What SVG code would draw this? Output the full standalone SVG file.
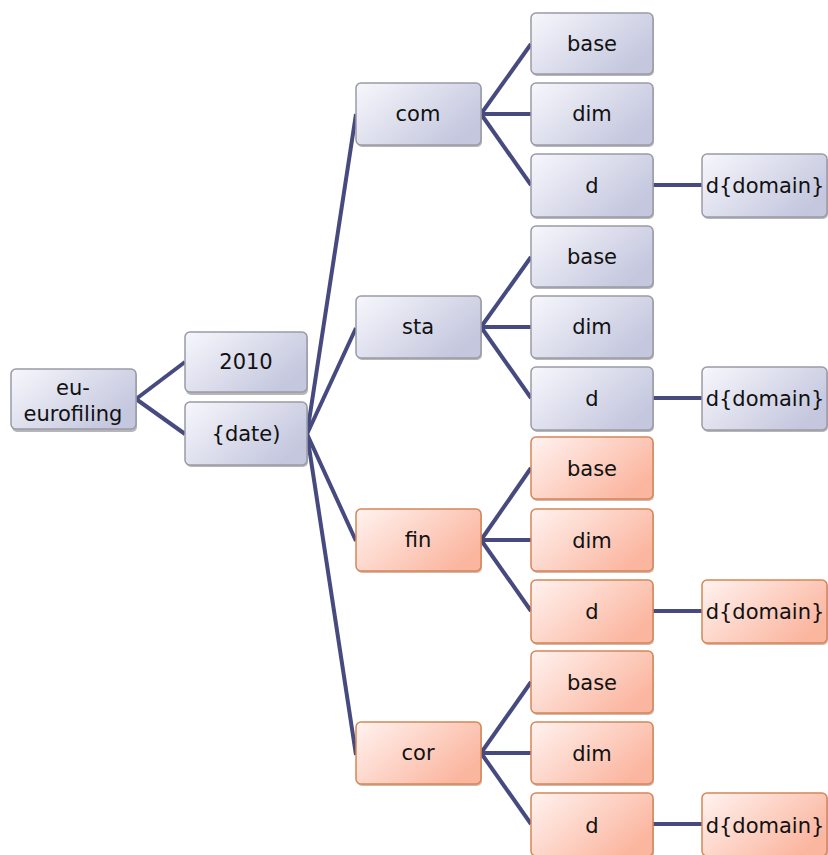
<svg xmlns="http://www.w3.org/2000/svg" width="828" height="855" viewBox="0 0 828 855">
<defs>
<linearGradient id="gb" x1="0" y1="0" x2="1" y2="0.6">
<stop offset="0" stop-color="#f7f7fc"/>
<stop offset="1" stop-color="#c4c7de"/>
</linearGradient>
<linearGradient id="go" x1="0" y1="0" x2="1" y2="0.6">
<stop offset="0" stop-color="#fff3f0"/>
<stop offset="1" stop-color="#fbb6a0"/>
</linearGradient>
</defs>
<style>
.sh{fill:#7a7a80;opacity:0.55}
.b{fill:url(#gb);stroke:#9a9aa8;stroke-width:1.5}
.o{fill:url(#go);stroke:#d4875a;stroke-width:1.5}
.osh{fill:#b07050;opacity:0.5}
text{font-family:"DejaVu Sans","Liberation Sans",sans-serif;font-size:21px;fill:#111;text-anchor:middle;dominant-baseline:central}
.c line{stroke:#464a7e;stroke-width:4;stroke-linecap:butt}
</style>
<g class="c" id="connectors">
<line x1="136" y1="399" x2="185" y2="362"/>
<line x1="136" y1="399" x2="185" y2="434"/>
<line x1="307" y1="434" x2="356" y2="114"/>
<line x1="307" y1="434" x2="356" y2="328"/>
<line x1="307" y1="434" x2="356" y2="541"/>
<line x1="307" y1="434" x2="356" y2="755"/>
<line x1="481" y1="114" x2="531" y2="44"/>
<line x1="481" y1="114" x2="531" y2="114"/>
<line x1="481" y1="114" x2="531" y2="185"/>
<line x1="481" y1="327" x2="531" y2="257"/>
<line x1="481" y1="327" x2="531" y2="327"/>
<line x1="481" y1="327" x2="531" y2="398"/>
<line x1="481" y1="540" x2="531" y2="468"/>
<line x1="481" y1="540" x2="531" y2="540"/>
<line x1="481" y1="540" x2="531" y2="611"/>
<line x1="481" y1="753" x2="531" y2="682"/>
<line x1="481" y1="753" x2="531" y2="753"/>
<line x1="481" y1="753" x2="531" y2="824"/>
<line x1="653" y1="185" x2="702" y2="185"/>
<line x1="653" y1="398" x2="702" y2="398"/>
<line x1="653" y1="611" x2="702" y2="611"/>
<line x1="653" y1="824" x2="702" y2="824"/>
</g>
<g id="n-eu"><rect class="sh" x="12" y="371" width="125" height="61" rx="5"/><rect class="b" x="11" y="369" width="125" height="60" rx="5"/><text x="73" y="388">eu-</text><text x="73" y="414">eurofiling</text></g>
<g id="n-2010"><rect class="sh" x="186" y="334" width="122" height="61" rx="5"/><rect class="b" x="185" y="332" width="122" height="60" rx="5"/><text x="246" y="362">2010</text></g>
<g id="n-date"><rect class="sh" x="186" y="404" width="122" height="63" rx="5"/><rect class="b" x="185" y="402" width="122" height="63" rx="5"/><text x="246" y="434">{date)</text></g>
<g id="n-com"><rect class="sh" x="357" y="85" width="125" height="62" rx="5"/><rect class="b" x="356" y="83" width="125" height="62" rx="5"/><text x="418" y="114">com</text></g>
<g id="n-sta"><rect class="sh" x="357" y="298" width="125" height="62" rx="5"/><rect class="b" x="356" y="296" width="125" height="62" rx="5"/><text x="418" y="327">sta</text></g>
<g id="n-fin"><rect class="osh" x="357" y="511" width="125" height="62" rx="5"/><rect class="o" x="356" y="509" width="125" height="62" rx="5"/><text x="418" y="540">fin</text></g>
<g id="n-cor"><rect class="osh" x="357" y="724" width="125" height="62" rx="5"/><rect class="o" x="356" y="722" width="125" height="62" rx="5"/><text x="418" y="753">cor</text></g>
<g id="n-com-base"><rect class="sh" x="532" y="15" width="122" height="61" rx="5"/><rect class="b" x="531" y="13" width="122" height="61" rx="5"/><text x="592" y="44">base</text></g>
<g id="n-com-dim"><rect class="sh" x="532" y="85" width="122" height="62" rx="5"/><rect class="b" x="531" y="83" width="122" height="62" rx="5"/><text x="592" y="114">dim</text></g>
<g id="n-com-d"><rect class="sh" x="532" y="156" width="122" height="63" rx="5"/><rect class="b" x="531" y="154" width="122" height="63" rx="5"/><text x="592" y="186">d</text></g>
<g id="n-com-dd"><rect class="sh" x="703" y="156" width="125" height="63" rx="5"/><rect class="b" x="702" y="154" width="125" height="63" rx="5"/><text x="765" y="186">d{domain}</text></g>
<g id="n-sta-base"><rect class="sh" x="532" y="228" width="122" height="61" rx="5"/><rect class="b" x="531" y="226" width="122" height="61" rx="5"/><text x="592" y="257">base</text></g>
<g id="n-sta-dim"><rect class="sh" x="532" y="298" width="122" height="62" rx="5"/><rect class="b" x="531" y="296" width="122" height="62" rx="5"/><text x="592" y="327">dim</text></g>
<g id="n-sta-d"><rect class="sh" x="532" y="369" width="122" height="63" rx="5"/><rect class="b" x="531" y="367" width="122" height="63" rx="5"/><text x="592" y="399">d</text></g>
<g id="n-sta-dd"><rect class="sh" x="703" y="369" width="125" height="63" rx="5"/><rect class="b" x="702" y="367" width="125" height="63" rx="5"/><text x="765" y="399">d{domain}</text></g>
<g id="n-fin-base"><rect class="osh" x="532" y="439" width="122" height="62" rx="5"/><rect class="o" x="531" y="437" width="122" height="62" rx="5"/><text x="592" y="469">base</text></g>
<g id="n-fin-dim"><rect class="osh" x="532" y="511" width="122" height="62" rx="5"/><rect class="o" x="531" y="509" width="122" height="62" rx="5"/><text x="592" y="541">dim</text></g>
<g id="n-fin-d"><rect class="osh" x="532" y="582" width="122" height="63" rx="5"/><rect class="o" x="531" y="580" width="122" height="63" rx="5"/><text x="592" y="612">d</text></g>
<g id="n-fin-dd"><rect class="osh" x="703" y="582" width="125" height="63" rx="5"/><rect class="o" x="702" y="580" width="125" height="63" rx="5"/><text x="765" y="612">d{domain}</text></g>
<g id="n-cor-base"><rect class="osh" x="532" y="653" width="122" height="62" rx="5"/><rect class="o" x="531" y="651" width="122" height="62" rx="5"/><text x="592" y="683">base</text></g>
<g id="n-cor-dim"><rect class="osh" x="532" y="724" width="122" height="62" rx="5"/><rect class="o" x="531" y="722" width="122" height="62" rx="5"/><text x="592" y="754">dim</text></g>
<g id="n-cor-d"><rect class="osh" x="532" y="795" width="122" height="63" rx="5"/><rect class="o" x="531" y="793" width="122" height="63" rx="5"/><text x="592" y="826">d</text></g>
<g id="n-cor-dd"><rect class="osh" x="703" y="795" width="125" height="63" rx="5"/><rect class="o" x="702" y="793" width="125" height="63" rx="5"/><text x="765" y="826">d{domain}</text></g>
</svg>
